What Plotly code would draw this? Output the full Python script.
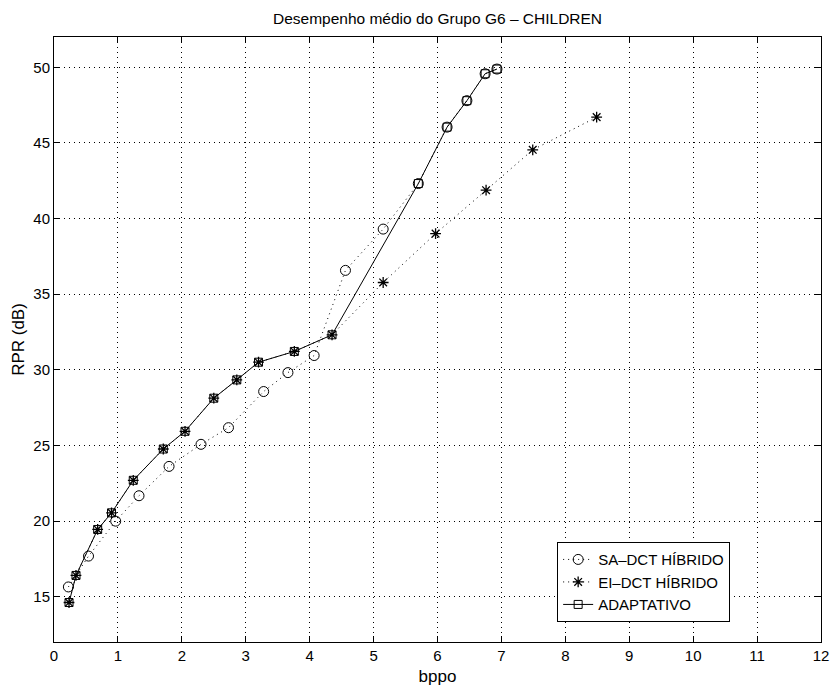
import plotly.graph_objects as go

# Data
sa_x = [0.225, 0.54, 0.965, 1.33, 1.80, 2.30, 2.73, 3.28, 3.66, 4.07, 4.56, 5.15, 5.70, 6.15, 6.46, 6.745, 6.93]
sa_y = [15.64, 17.68, 19.99, 21.67, 23.61, 25.07, 26.17, 28.56, 29.81, 30.94, 36.57, 39.30, 42.31, 46.04, 47.79, 49.57, 49.88]

ei_x = [0.235, 0.344, 0.683, 0.90, 1.24, 1.71, 2.05, 2.50, 2.86, 3.20, 3.76, 4.35, 5.15, 5.97, 6.76, 7.49, 8.49]
ei_y = [14.61, 16.40, 19.44, 20.54, 22.69, 24.76, 25.93, 28.12, 29.33, 30.50, 31.21, 32.31, 35.77, 39.00, 41.87, 44.54, 46.70]

ad_x = [0.235, 0.344, 0.683, 0.90, 1.24, 1.71, 2.05, 2.50, 2.86, 3.20, 3.76, 4.35, 5.70, 6.15, 6.46, 6.745, 6.93]
ad_y = [14.61, 16.40, 19.44, 20.54, 22.69, 24.76, 25.93, 28.12, 29.33, 30.50, 31.21, 32.31, 42.31, 46.04, 47.79, 49.57, 49.88]

x_ticks = list(range(0, 13))
y_ticks = [15, 20, 25, 30, 35, 40, 45, 50]

title_text = "Desempenho médio do Grupo G6 – CHILDREN"
x_title = "bppo"
y_title = "RPR (dB)"
names = ["SA–DCT HÍBRIDO", "EI–DCT HÍBRIDO", "ADAPTATIVO"]

FONT = "Liberation Sans, Arial, Helvetica, sans-serif"
DOT = "1px,4px"

fig = go.Figure()
fig.add_trace(go.Scatter(
    x=sa_x, y=sa_y, name=names[0], mode="lines+markers",
    line=dict(color="black", width=1, dash=DOT),
    marker=dict(symbol="circle-open", size=10, color="black", line=dict(width=1, color="black")),
))
fig.add_trace(go.Scatter(
    x=ei_x, y=ei_y, name=names[1], mode="lines+markers",
    line=dict(color="black", width=1, dash=DOT),
    marker=dict(symbol="asterisk-open", size=9, color="black", line=dict(width=1.3, color="black")),
))
fig.add_trace(go.Scatter(
    x=ad_x, y=ad_y, name=names[2], mode="lines+markers",
    line=dict(color="black", width=1),
    marker=dict(symbol="square-open", size=8, color="black", line=dict(width=1, color="black")),
))

axis_common = dict(
    showline=True, linecolor="black", linewidth=1, mirror="ticks",
    ticks="inside", ticklen=6, tickcolor="black", tickwidth=1,
    showgrid=True, gridcolor="black", gridwidth=1, griddash=DOT,
    zeroline=False, automargin=False,
    tickfont=dict(family=FONT, size=15, color="black"),
)

fig.update_layout(
    width=831, height=686,
    margin=dict(l=54, r=10, t=37, b=44),
    paper_bgcolor="white", plot_bgcolor="white",
    font=dict(family=FONT, color="black"),
    title=dict(text=title_text, x=0.5265, xanchor="center", y=1 - 19 / 686, yanchor="middle",
               font=dict(family=FONT, size=15.5, color="black")),
    xaxis=dict(range=[0, 12], tickvals=x_ticks, ticktext=[str(v) for v in x_ticks],
               title=dict(text=x_title, font=dict(family=FONT, size=17, color="black"), standoff=8),
               **axis_common),
    yaxis=dict(range=[12, 52], tickvals=y_ticks, ticktext=[str(v) for v in y_ticks],
               title=dict(text=y_title, font=dict(family=FONT, size=17, color="black"), standoff=4),
               **axis_common),
    legend=dict(x=0.656, y=0.165, xanchor="left", yanchor="top",
                bgcolor="white", bordercolor="black", borderwidth=1,
                font=dict(family=FONT, size=15, color="black"),
                tracegroupgap=0, itemwidth=30),
    showlegend=True,
)

fig.write_html("out.html")
